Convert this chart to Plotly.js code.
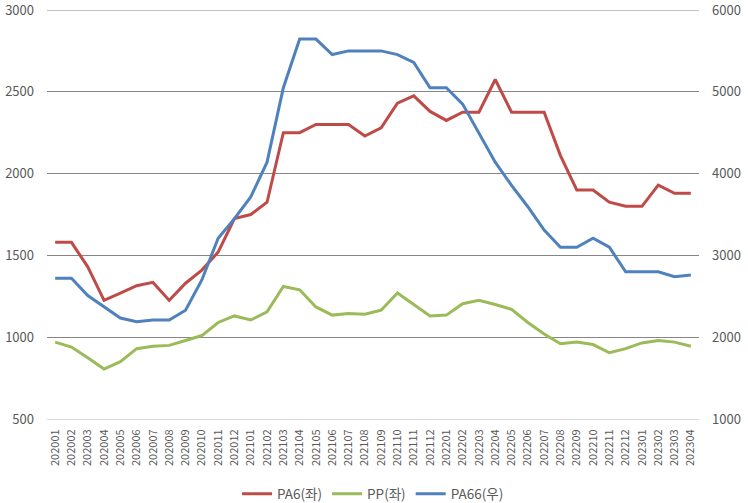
<!DOCTYPE html>
<html>
<head>
<meta charset="utf-8">
<script src="https://cdn.plot.ly/plotly-3.0.1.min.js"></script>
<style>html,body{margin:0;padding:0;background:#fff}#chart{width:748px;height:503px}</style>
</head>
<body>
<div id="chart"></div>
<script>
const months = ["202001","202002","202003","202004","202005","202006","202007","202008","202009","202010","202011","202012",
"202101","202102","202103","202104","202105","202106","202107","202108","202109","202110","202111","202112",
"202201","202202","202203","202204","202205","202206","202207","202208","202209","202210","202211","202212",
"202301","202302","202303","202304"];
const pa6 = [1580,1580,1430,1225,1270,1315,1335,1225,1330,1410,1520,1725,
1750,1825,2250,2250,2300,2300,2300,2230,2280,2430,2475,2380,
2325,2375,2375,2575,2375,2375,2375,2110,1900,1900,1825,1800,
1800,1930,1880,1880];
const pp = [970,940,875,805,850,930,944,950,980,1010,1090,1130,
1105,1155,1310,1290,1185,1135,1145,1140,1165,1270,1200,1130,
1135,1205,1225,1200,1170,1090,1020,960,970,955,905,930,
965,980,970,945];
const pa66 = [2720,2720,2510,2370,2235,2190,2210,2210,2330,2700,3210,3450,
3715,4140,5050,5645,5645,5455,5500,5500,5500,5455,5360,5050,
5050,4850,4490,4140,3855,3595,3310,3100,3100,3210,3100,2800,
2800,2800,2740,2760];
const names = ["PA6(좌)","PP(좌)","PA66(우)"];
const colors = ["#BE4B48","#9BBB59","#4F81BD"];

const font = "'Noto Sans CJK KR', 'Noto Sans', sans-serif";
const traces = [
  {x: months, y: pa6, name: names[0], yaxis: 'y', type: 'scatter', mode: 'lines', line: {color: colors[0], width: 3}},
  {x: months, y: pp, name: names[1], yaxis: 'y', type: 'scatter', mode: 'lines', line: {color: colors[1], width: 3}},
  {x: months, y: pa66, name: names[2], yaxis: 'y2', type: 'scatter', mode: 'lines', line: {color: colors[2], width: 3}}
];
const layout = {
  width: 748, height: 503,
  margin: {l: 47, r: 49, t: 9.5, b: 84, autoexpand: false},
  paper_bgcolor: '#fff', plot_bgcolor: '#fff',
  font: {family: font, color: '#595959', size: 13},
  showlegend: true,
  legend: {orientation: 'h', x: 0.5, xanchor: 'center', yref: 'container', y: 0.018, yanchor: 'middle', bgcolor: 'rgba(0,0,0,0)',
    font: {size: 13.5, color: '#595959'}, itemwidth: 30, tracegroupgap: 0},
  xaxis: {type: 'category', range: [-0.5, 39.5], tickangle: -90, tickfont: {size: 11, color: '#595959'}, automargin: false,
    showgrid: false, showline: true, linecolor: '#d9d9d9', linewidth: 1, ticks: '', ticklabelstandoff: 5, zeroline: false, fixedrange: true},
  yaxis: {range: [500, 3000.01], dtick: 500, tick0: 500, showgrid: true, gridcolor: '#868686', gridwidth: 1, automargin: false,
    zeroline: false, showline: false, ticks: '', ticklabelstandoff: 12, ticklabeloverflow: 'allow', tickfont: {size: 13, color: '#595959'}},
  yaxis2: {range: [1000, 6000.02], dtick: 1000, tick0: 1000, overlaying: 'y', side: 'right', showgrid: false, automargin: false,
    zeroline: false, showline: false, ticks: '', ticklabelstandoff: 12, ticklabeloverflow: 'allow', tickfont: {size: 13, color: '#595959'}},
  shapes: [{type: 'line', layer: 'below', xref: 'paper', x0: 0, x1: 1, yref: 'y', y0: 3000, y1: 3000, line: {color: '#868686', width: 1}}]
};
Plotly.newPlot('chart', traces, layout, {displayModeBar: false, staticPlot: true});
</script>
</body>
</html>
